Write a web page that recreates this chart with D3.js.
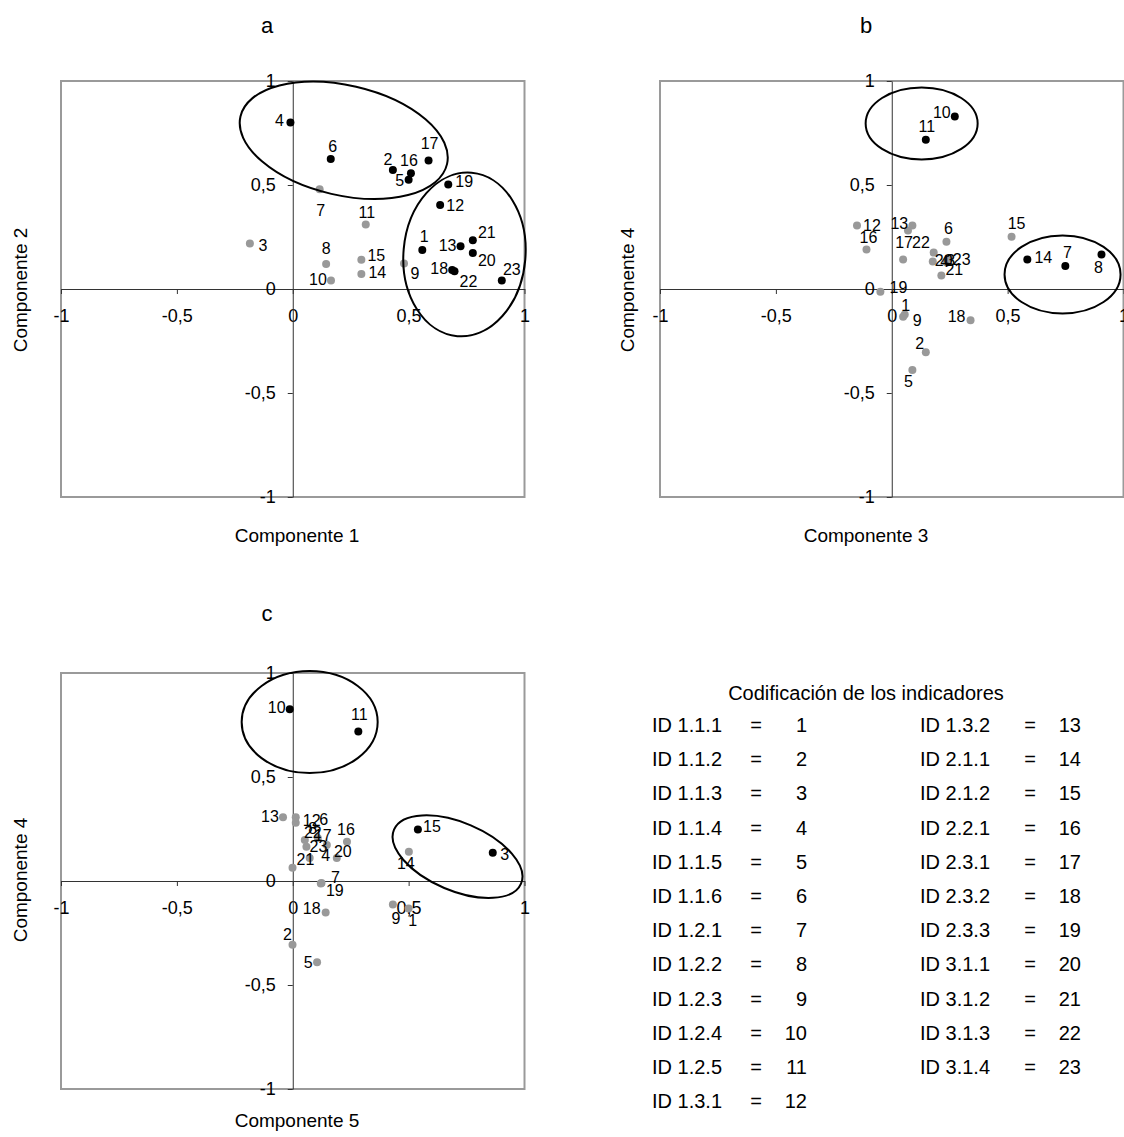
<!DOCTYPE html>
<html>
<head>
<meta charset="utf-8">
<script src="https://cdn.jsdelivr.net/npm/d3@7"></script>
<style>
  body { margin: 0; background: #fff; }
  text { font-family: Arial, "Liberation Sans", sans-serif; fill: #000; }
</style>
</head>
<body>
<svg id="chart"></svg>
<script>
const svgWidth = 1124;
const svgHeight = 1137;

// indicator numbers and their codes
const indicatorIds = [1, 2, 3, 4, 5, 6, 7, 8, 9, 10, 11, 12, 13, 14, 15, 16, 17, 18, 19, 20, 21, 22, 23];
const indicatorCodes = ['ID 1.1.1', 'ID 1.1.2', 'ID 1.1.3', 'ID 1.1.4', 'ID 1.1.5', 'ID 1.1.6',
  'ID 1.2.1', 'ID 1.2.2', 'ID 1.2.3', 'ID 1.2.4', 'ID 1.2.5', 'ID 1.3.1',
  'ID 1.3.2', 'ID 2.1.1', 'ID 2.1.2', 'ID 2.2.1', 'ID 2.3.1', 'ID 2.3.2', 'ID 2.3.3',
  'ID 3.1.1', 'ID 3.1.2', 'ID 3.1.3', 'ID 3.1.4'];

const tickValues = [-1, -0.5, 0, 0.5, 1];

// panel a: Componente 1 vs Componente 2
const compA_x = [0.559, 0.432, -0.185, -0.01, 0.50, 0.164, 0.116, 0.144, 0.48, 0.165, 0.315, 0.636,
  0.724, 0.296, 0.296, 0.51, 0.586, 0.688, 0.671, 0.777, 0.777, 0.698, 0.902];
const compA_y = [0.187, 0.572, 0.219, 0.80, 0.525, 0.625, 0.48, 0.12, 0.122, 0.041, 0.31, 0.404,
  0.205, 0.072, 0.141, 0.557, 0.618, 0.091, 0.503, 0.173, 0.234, 0.085, 0.041];
const groupedA = [1, 2, 4, 5, 6, 12, 13, 16, 17, 18, 19, 20, 21, 22, 23];

// panel b: Componente 3 vs Componente 4
const compB_x = [0.056, 0.147, 0.237, 0.177, 0.089, 0.236, 0.749, 0.905, 0.049, 0.272, 0.147, -0.15,
  0.089, 0.585, 0.517, -0.109, 0.049, 0.34, -0.049, 0.181, 0.214, 0.07, 0.25];
const compB_y = [-0.123, -0.304, 0.127, 0.132, -0.39, 0.227, 0.11, 0.166, -0.134, 0.829, 0.718, 0.305,
  0.305, 0.142, 0.251, 0.19, 0.142, -0.15, -0.013, 0.175, 0.065, 0.281, 0.147];
const groupedB = [7, 8, 10, 11, 14];

// panel c: Componente 5 vs Componente 4
const compC_x = [0.500, -0.001, 0.863, 0.073, 0.105, 0.013, 0.124, 0.108, 0.432, -0.013, 0.283, 0.013,
  -0.042, 0.501, 0.540, 0.234, 0.147, 0.142, 0.121, 0.190, -0.001, 0.052, 0.059];
const compC_y = [-0.132, -0.307, 0.136, 0.111, -0.391, 0.280, -0.01, 0.207, -0.113, 0.826, 0.719, 0.306,
  0.306, 0.141, 0.248, 0.189, 0.173, -0.151, -0.012, 0.111, 0.064, 0.197, 0.165];
const groupedC = [3, 10, 11, 15];

// label offsets (px) for each point, indexed like indicatorIds
const labelOffsetsA = [[2,-14],[-5,-11],[13,2],[-11,-2],[-9,1],[2,-13],[1,21],[0,-16],[11,10],[-13,-1],
  [1,-12],[15,0],[-13,-1],[16,-2],[15,-4],[-2,-13],[1,-17],[-13,-2],[16,-3],[14,7],[14,-8],[14,10],[10,-11]];
const labelOffsetsB = [[1,-9],[-6,-9],[4,-2],[12,0],[-4,11],[2,-13],[2,-14],[-3,13],[14,4],[-13,-4],
  [1,-13],[15,0],[-13,-2],[16,-2],[5,-13],[2,-12],[1,-17],[-14,-4],[18,-4],[10,8],[13,-6],[13,12],[12,1]];
const labelOffsetsC = [[4,12],[-5,-10],[12,2],[16,-3],[-9,0],[28,-3],[14,-6],[-5,-10],[3,14],[-13,-2],
  [1,-17],[16,3],[-13,-1],[-3,12],[14,-3],[-1,-12],[-4,-10],[-14,-4],[14,7],[6,-7],[13,-8],[8,-8],[12,0]];

// circled groups: centre in data units, radii in px, rotation in degrees
const ellipsesA = [{cx: 0.22, cy: 0.715, rx: 106, ry: 55, rot: 13}, {cx: 0.741, cy: 0.166, rx: 61, ry: 82, rot: 5}];
const ellipsesB = [{cx: 0.129, cy: 0.796, rx: 56, ry: 36, rot: 0}, {cx: 0.737, cy: 0.07, rx: 58, ry: 39, rot: 0}];
const ellipsesC = [{cx: 0.073, cy: 0.764, rx: 68, ry: 51, rot: 0}, {cx: 0.711, cy: 0.117, rx: 69, ry: 34, rot: 23}];

const panels = [
  {title: 'a', xTitle: 'Componente 1', yTitle: 'Componente 2', xs: compA_x, ys: compA_y, grouped: groupedA,
    offsets: labelOffsetsA, ellipses: ellipsesA, left: 61, right: 524.5, top: 81, bottom: 497,
    titlePos: [267, 25], xTitlePos: [297, 535], yTitlePos: [20, 290]},
  {title: 'b', xTitle: 'Componente 3', yTitle: 'Componente 4', xs: compB_x, ys: compB_y, grouped: groupedB,
    offsets: labelOffsetsB, ellipses: ellipsesB, left: 660, right: 1123.5, top: 81, bottom: 497,
    titlePos: [866, 25], xTitlePos: [866, 535], yTitlePos: [627, 290]},
  {title: 'c', xTitle: 'Componente 5', yTitle: 'Componente 4', xs: compC_x, ys: compC_y, grouped: groupedC,
    offsets: labelOffsetsC, ellipses: ellipsesC, left: 61, right: 524.5, top: 673, bottom: 1089,
    titlePos: [267, 613], xTitlePos: [297, 1120], yTitlePos: [20, 880]}
];

const pointRadius = 4;
const grayColor = '#999999';

const locale = d3.formatLocale({decimal: ',', thousands: '.', grouping: [3], currency: ['', ''], minus: '-'});
const tickFormat = locale.format('');

const svg = d3.select('#chart')
  .attr('width', svgWidth)
  .attr('height', svgHeight);

svg.append('rect')
  .attr('width', svgWidth)
  .attr('height', svgHeight)
  .attr('fill', '#fff');

function drawPanel(p) {
  const xScale = d3.scaleLinear().domain([-1, 1]).range([p.left, p.right]);
  const yScale = d3.scaleLinear().domain([-1, 1]).range([p.bottom, p.top]);
  const g = svg.append('g');

  // plot frame
  g.append('rect')
    .attr('x', p.left)
    .attr('y', p.top)
    .attr('width', p.right - p.left)
    .attr('height', p.bottom - p.top)
    .attr('fill', 'none')
    .attr('stroke', '#9a9a9a')
    .attr('stroke-width', 2);

  // axes crossing at the origin
  const xAxis = g.append('g')
    .attr('transform', `translate(0, ${yScale(0)})`)
    .call(d3.axisBottom(xScale).tickValues(tickValues).tickFormat(tickFormat)
      .tickSize(5).tickSizeOuter(0).tickPadding(15));
  const yAxis = g.append('g')
    .attr('transform', `translate(${xScale(0)}, 0)`)
    .call(d3.axisLeft(yScale).tickValues(tickValues).tickFormat(tickFormat)
      .tickSize(5).tickSizeOuter(0).tickPadding(12));
  [xAxis, yAxis].forEach(axis => {
    axis.select('.domain').attr('stroke', '#333').attr('stroke-width', 1);
    axis.selectAll('.tick line').attr('stroke', '#333');
    axis.selectAll('.tick text')
      .style('font-family', 'Arial, "Liberation Sans", sans-serif')
      .style('font-size', '18px')
      .attr('fill', '#000');
  });

  // points
  const points = indicatorIds.map((id, i) => ({
    id: id,
    x: p.xs[i],
    y: p.ys[i],
    dx: p.offsets[i][0],
    dy: p.offsets[i][1],
    grouped: p.grouped.includes(id)
  }));
  // gray first so the black ones sit on top
  points.sort((a, b) => a.grouped - b.grouped);

  g.selectAll('circle.pt')
    .data(points)
    .enter()
    .append('circle')
    .attr('class', 'pt')
    .attr('cx', d => xScale(d.x))
    .attr('cy', d => yScale(d.y))
    .attr('r', pointRadius)
    .attr('fill', d => d.grouped ? '#000' : grayColor);

  g.selectAll('text.pt-label')
    .data(points)
    .enter()
    .append('text')
    .attr('class', 'pt-label')
    .attr('x', d => xScale(d.x) + d.dx)
    .attr('y', d => yScale(d.y) + d.dy)
    .attr('dy', '0.35em')
    .attr('text-anchor', 'middle')
    .style('font-size', '16px')
    .text(d => d.id);

  // ellipses around the groups
  g.selectAll('ellipse')
    .data(p.ellipses)
    .enter()
    .append('ellipse')
    .attr('transform', d => `translate(${xScale(d.cx)}, ${yScale(d.cy)}) rotate(${d.rot})`)
    .attr('rx', d => d.rx)
    .attr('ry', d => d.ry)
    .attr('fill', 'none')
    .attr('stroke', '#000')
    .attr('stroke-width', 2);

  // titles
  g.append('text')
    .attr('x', p.titlePos[0])
    .attr('y', p.titlePos[1])
    .attr('dy', '0.35em')
    .attr('text-anchor', 'middle')
    .style('font-size', '22px')
    .text(p.title);
  g.append('text')
    .attr('x', p.xTitlePos[0])
    .attr('y', p.xTitlePos[1])
    .attr('dy', '0.35em')
    .attr('text-anchor', 'middle')
    .style('font-size', '19px')
    .text(p.xTitle);
  g.append('text')
    .attr('transform', `translate(${p.yTitlePos[0]}, ${p.yTitlePos[1]}) rotate(-90)`)
    .attr('dy', '0.35em')
    .attr('text-anchor', 'middle')
    .style('font-size', '19px')
    .text(p.yTitle);
}

panels.forEach(drawPanel);

// legend with the indicator coding
const legend = svg.append('g');
const legendRowY = d3.scaleLinear().domain([0, 1]).range([725, 759.2]);
const legendCols = [
  {codeX: 652, eqX: 756, numX: 807},
  {codeX: 920, eqX: 1030, numX: 1081}
];
const rowsPerCol = 12;

legend.append('text')
  .attr('x', 866)
  .attr('y', 693)
  .attr('dy', '0.35em')
  .attr('text-anchor', 'middle')
  .style('font-size', '20px')
  .text('Codificación de los indicadores');

const legendRows = legend.selectAll('g.row')
  .data(indicatorIds.map((id, i) => ({id: id, code: indicatorCodes[i], col: Math.floor(i / rowsPerCol), row: i % rowsPerCol})))
  .enter()
  .append('g')
  .attr('class', 'row')
  .attr('transform', d => `translate(0, ${legendRowY(d.row)})`);

legendRows.append('text')
  .attr('x', d => legendCols[d.col].codeX)
  .attr('dy', '0.35em')
  .style('font-size', '20px')
  .text(d => d.code);
legendRows.append('text')
  .attr('x', d => legendCols[d.col].eqX)
  .attr('dy', '0.35em')
  .attr('text-anchor', 'middle')
  .style('font-size', '20px')
  .text('=');
legendRows.append('text')
  .attr('x', d => legendCols[d.col].numX)
  .attr('dy', '0.35em')
  .attr('text-anchor', 'end')
  .style('font-size', '20px')
  .text(d => d.id);
</script>
</body>
</html>
